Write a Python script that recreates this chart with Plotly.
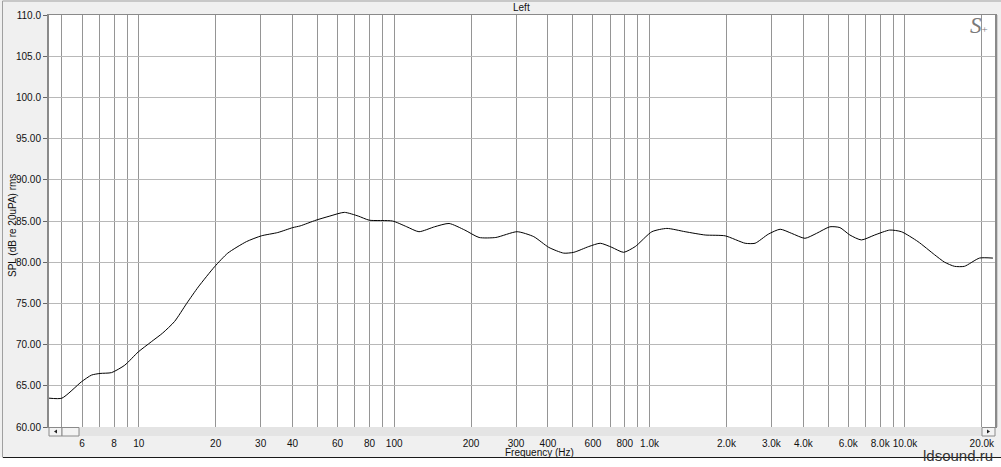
import plotly.graph_objects as go
import numpy as np

# ---- data ----
freq_hz = [4.45, 5.0, 5.97, 6.53, 7.05, 7.82, 8.81, 9.94, 11.2, 12.4, 13.8, 15.4, 17.1,
           19.8, 22.3, 26.4, 30.2, 35.0, 40.1, 42.8, 49.4, 56.0, 63.8, 72.3, 79.8, 98.5,
           112, 125, 144, 164, 189, 215, 250, 303, 352, 403, 461, 505, 578, 641, 712,
           791, 879, 1021, 1169, 1378, 1651, 1977, 2367, 2589, 2917, 3247, 3600, 4058,
           4506, 5083, 5562, 6085, 6750, 7613, 8714, 9684, 11245, 13066, 14295, 15631,
           17093, 19580, 22100]
spl_db = [63.5, 63.5, 65.5, 66.3, 66.5, 66.6, 67.5, 69.1, 70.35, 71.4, 72.8, 75.0, 77.0,
          79.45, 81.1, 82.5, 83.2, 83.6, 84.2, 84.4, 85.1, 85.6, 86.05, 85.6, 85.1, 85.0,
          84.3, 83.7, 84.3, 84.7, 83.9, 83.0, 83.0, 83.7, 83.1, 81.8, 81.1, 81.2, 81.9,
          82.3, 81.8, 81.2, 81.9, 83.7, 84.1, 83.7, 83.3, 83.2, 82.3, 82.3, 83.4, 84.0,
          83.5, 82.9, 83.5, 84.3, 84.2, 83.3, 82.7, 83.3, 83.9, 83.7, 82.5, 80.9, 80.0,
          79.5, 79.5, 80.5, 80.5]

x_grid = [5, 6, 7, 8, 9, 10, 20, 30, 40, 50, 60, 70, 80, 90, 100, 200, 300, 400, 500,
          600, 700, 800, 900, 1000, 2000, 3000, 4000, 5000, 6000, 7000, 8000, 9000,
          10000, 20000]
x_labels = ["", "6", "", "8", "", "10", "20", "30", "40", "", "60", "", "80", "", "100",
            "200", "300", "400", "", "600", "", "800", "", "1.0k", "2.0k", "3.0k", "4.0k",
            "", "6.0k", "", "8.0k", "", "10.0k", "20.0k"]
y_ticks = [60, 65, 70, 75, 80, 85, 90, 95, 100, 105, 110]
y_labels = ["60.00", "65.00", "70.00", "75.00", "80.00", "85.00", "90.00", "95.00",
            "100.0", "105.0", "110.0"]

# ---- layout geometry (pixels) ----
W_FIG, H_FIG = 1001, 467
L, R, T, B = 49, 995, 15, 427
PW, PH = R - L, B - T


def px(x):
    return (x - L) / PW


def py(y):
    return (B - y) / PH


FONT = "Liberation Sans, Arial, sans-serif"

fig = go.Figure()
fig.add_trace(go.Scatter(x=freq_hz, y=spl_db, mode="lines",
                         line=dict(color="#000000", width=1, shape="spline", smoothing=0.6),
                         hoverinfo="skip", showlegend=False))

shapes = []
# white strip below window frame
shapes.append(dict(type="rect", xref="paper", yref="paper", x0=px(0), x1=px(W_FIG),
                   y0=py(H_FIG), y1=py(457.5), fillcolor="white", line=dict(width=0),
                   layer="below"))
# bottom frame line
shapes.append(dict(type="line", xref="paper", yref="paper", x0=px(3), x1=px(W_FIG),
                   y0=py(457.5), y1=py(457.5), line=dict(color="#1a1a1a", width=1)))
# outer left / top border
shapes.append(dict(type="line", xref="paper", yref="paper", x0=px(2.5), x1=px(2.5),
                   y0=py(1), y1=py(457.5), line=dict(color="#a0a0a0", width=1)))
shapes.append(dict(type="line", xref="paper", yref="paper", x0=px(2.5), x1=px(W_FIG),
                   y0=py(1), y1=py(1), line=dict(color="#a0a0a0", width=1)))
# horizontal scrollbar
shapes.append(dict(type="rect", xref="paper", yref="paper", x0=px(L), x1=px(R),
                   y0=py(436), y1=py(B), fillcolor="#e4e4e4", line=dict(width=0)))
for x0, x1 in [(49, 62), (62, 79), (982, 995)]:
    shapes.append(dict(type="rect", xref="paper", yref="paper", x0=px(x0), x1=px(x1),
                       y0=py(436), y1=py(B + 0.5), fillcolor="#f3f3f3",
                       line=dict(color="#8a8a8a", width=1)))


def tri(points):
    d = "M " + " L ".join(f"{px(a)},{py(b)}" for a, b in points) + " Z"
    return dict(type="path", xref="paper", yref="paper", path=d,
                fillcolor="#222222", line=dict(width=0))


shapes.append(tri([(54, 431.5), (57, 429.5), (57, 433.5)]))
shapes.append(tri([(990, 431.5), (987, 429.5), (987, 433.5)]))
# right vertical scrollbar hint
shapes.append(dict(type="line", xref="paper", yref="paper", x0=px(997.5), x1=px(997.5),
                   y0=py(15), y1=py(427), line=dict(color="#d0d0d0", width=1)))

annotations = [
    dict(text="Left", x=px(521), y=py(7.5), xref="paper", yref="paper", showarrow=False,
         font=dict(family=FONT, size=10, color="#111111"), xanchor="center", yanchor="middle"),
    dict(text="Frequency (Hz)", x=px(539), y=py(452), xref="paper", yref="paper",
         showarrow=False, font=dict(family=FONT, size=10, color="#111111"),
         xanchor="center", yanchor="middle"),
    dict(text="SPL (dB re 20uPA) rms", x=px(12), y=py(226), xref="paper", yref="paper",
         showarrow=False, textangle=-90, font=dict(family=FONT, size=10, color="#111111"),
         xanchor="center", yanchor="middle"),
    dict(text="<i>S</i><span style='font-size:11px'>+</span>", x=px(979), y=py(26),
         xref="paper", yref="paper", showarrow=False,
         font=dict(family="Liberation Serif, DejaVu Serif, serif", size=23, color="#7a7a7a"),
         xanchor="center", yanchor="middle"),
    dict(text="ldsound.ru", x=px(995), y=py(455), xref="paper", yref="paper",
         showarrow=False, font=dict(family=FONT, size=15, color="#333333"),
         xanchor="right", yanchor="middle"),
]

fig.update_layout(
    width=W_FIG, height=H_FIG,
    margin=dict(l=L, r=W_FIG - R, t=T, b=H_FIG - B, pad=0, autoexpand=False),
    paper_bgcolor="#f0f0f0", plot_bgcolor="#ffffff",
    showlegend=False,
    shapes=shapes, annotations=annotations,
    font=dict(family=FONT, size=10, color="#111111"),
    xaxis=dict(type="log", range=[np.log10(4.45), np.log10(22520)], tickmode="array",
               tickvals=x_grid, ticktext=x_labels, showgrid=True, gridcolor="#959595",
               gridwidth=1, zeroline=False, showline=True, linecolor="#8a8a8a",
               linewidth=1, mirror=True, ticks="", ticklabelstandoff=7,
               automargin=False,
               tickfont=dict(family=FONT, size=10, color="#111111"), fixedrange=True),
    yaxis=dict(range=[60, 110], tickmode="array", tickvals=y_ticks, ticktext=y_labels,
               showgrid=True, gridcolor="#b8b8b8", gridwidth=1, zeroline=False,
               showline=True, linecolor="#8a8a8a", linewidth=2, mirror=True,
               ticks="outside", ticklen=4, tickcolor="#666666", tickwidth=1,
               automargin=False,
               tickfont=dict(family=FONT, size=10, color="#111111"), fixedrange=True),
)

fig.write_html("out.html", config={"displayModeBar": False, "staticPlot": True},
               post_script="document.body.style.margin='0';document.body.style.padding='0';"
                           "document.body.style.overflow='hidden';")
